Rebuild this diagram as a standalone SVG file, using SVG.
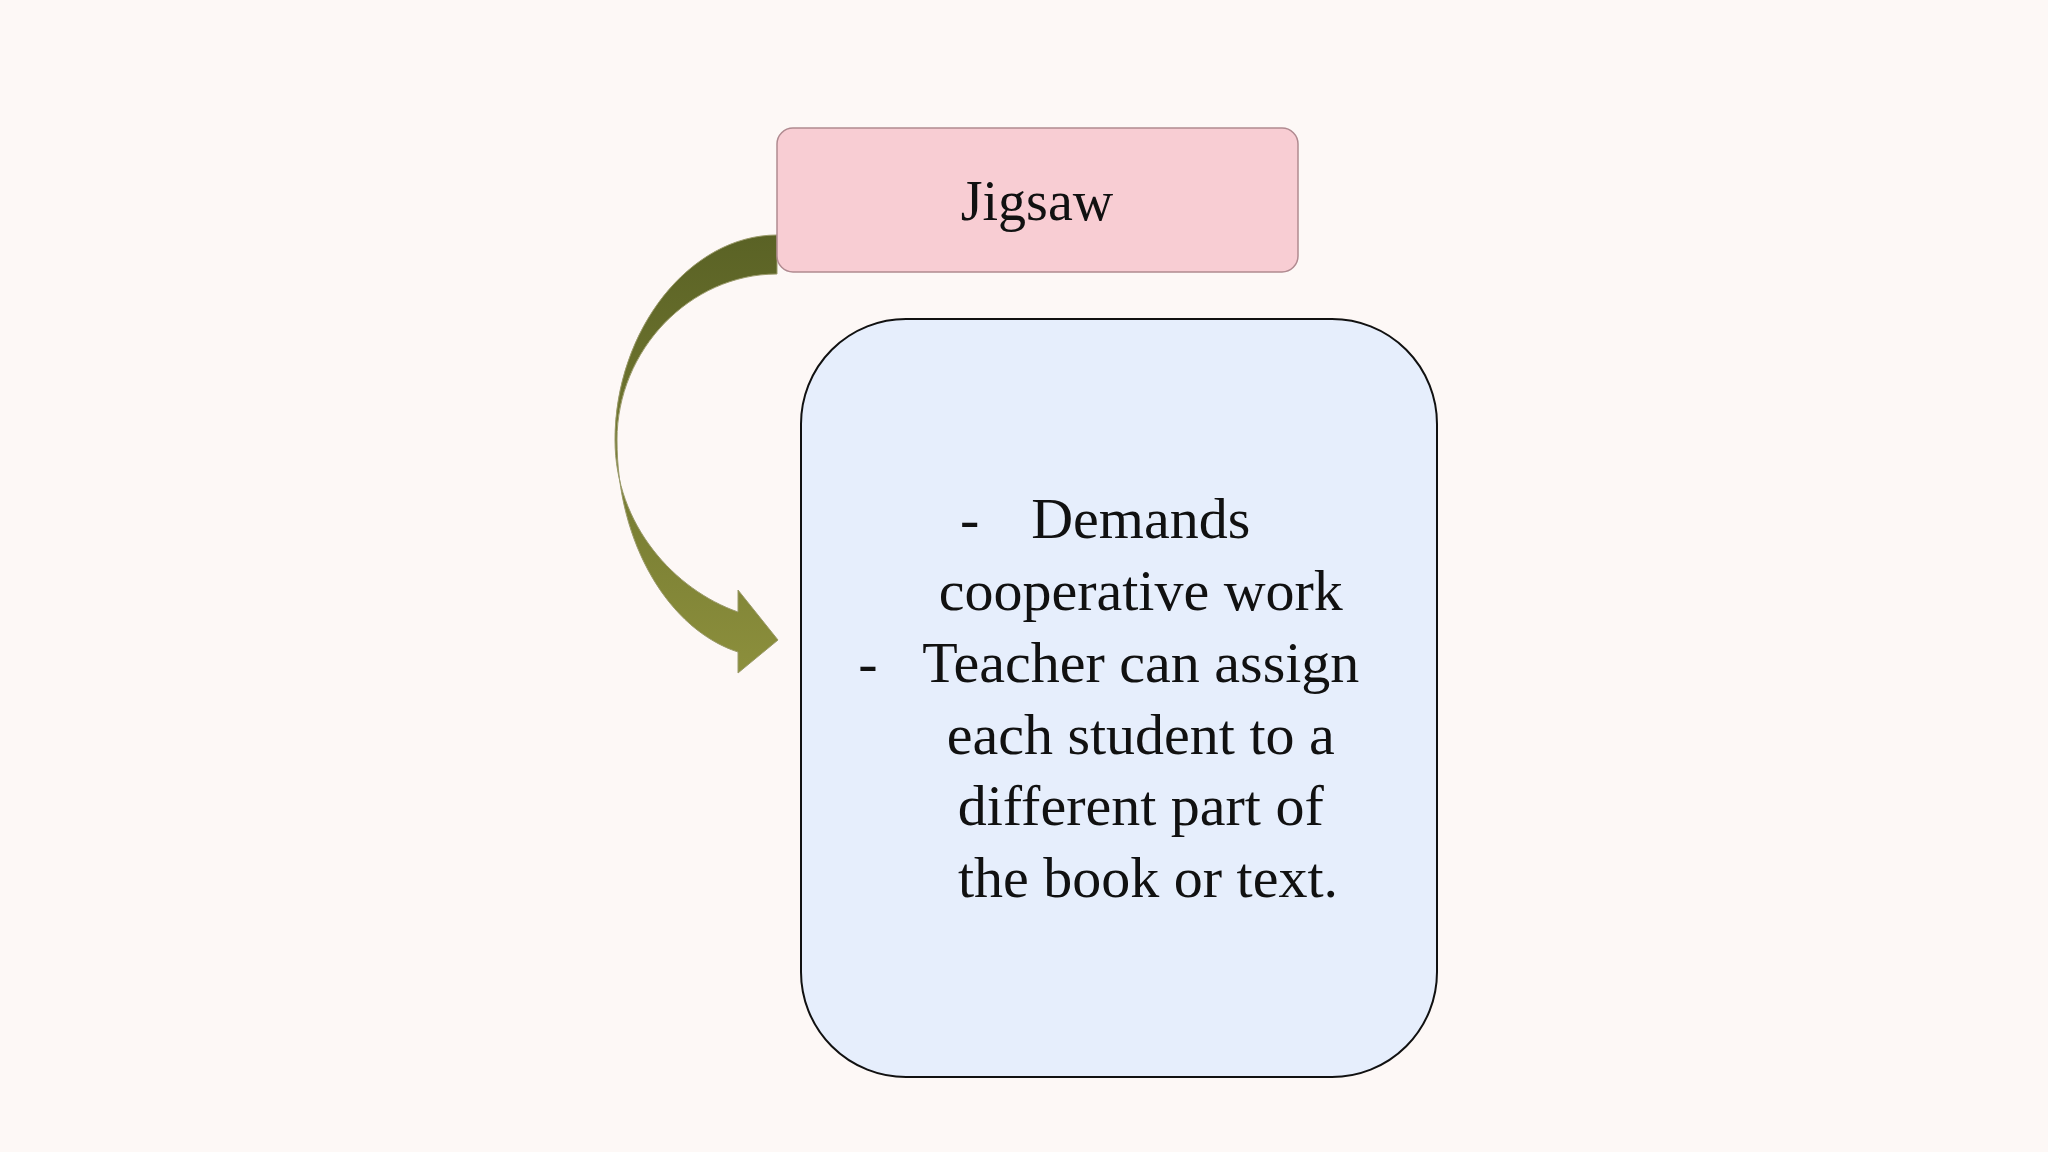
<svg xmlns="http://www.w3.org/2000/svg" width="2048" height="1152" viewBox="0 0 2048 1152">
<style>
.t{font-family:"Liberation Serif",serif;fill:#111;}
</style>
<defs>
<linearGradient id="ag" x1="0" y1="0" x2="0" y2="1">
<stop offset="0" stop-color="#5a6225"/><stop offset="1" stop-color="#8c8f3c"/>
</linearGradient>
</defs>
<rect width="2048" height="1152" fill="#fdf8f6"/>
<g id="connectors">
<path d="M777,235 C690,235 615,330 615,440 C615,525 675,590 738,612 L738,590 L778,640 L738,673 L738,652 C670,630 617,545 617,440 C617,350 690,274 777,274 Z" fill="url(#ag)" stroke="#9a9a6a" stroke-width="1"/>
</g>
<g id="jigsaw">
<rect x="777" y="128" width="521" height="144" rx="16" fill="#f8cdd3" stroke="#b08a90" stroke-width="1.5"/>
<text class="t" x="1037" y="220" font-size="56" text-anchor="middle">Jigsaw</text>
</g>
<g id="details">
<rect x="801" y="319" width="636" height="758" rx="105" fill="#e6eefc" stroke="#111" stroke-width="2"/>
<text class="t" font-size="58" text-anchor="middle">
<tspan x="977" y="538">-</tspan>
<tspan x="868" y="682">-</tspan>
</text>
<text class="t" font-size="58" text-anchor="middle">
<tspan x="1148" y="538">Demands</tspan>
<tspan x="1148" y="610">cooperative work</tspan>
<tspan x="1148" y="682">Teacher can assign</tspan>
<tspan x="1148" y="754">each student to a</tspan>
<tspan x="1148" y="825">different part of</tspan>
<tspan x="1148" y="897">the book or text.</tspan>
</text>
</g>
</svg>
